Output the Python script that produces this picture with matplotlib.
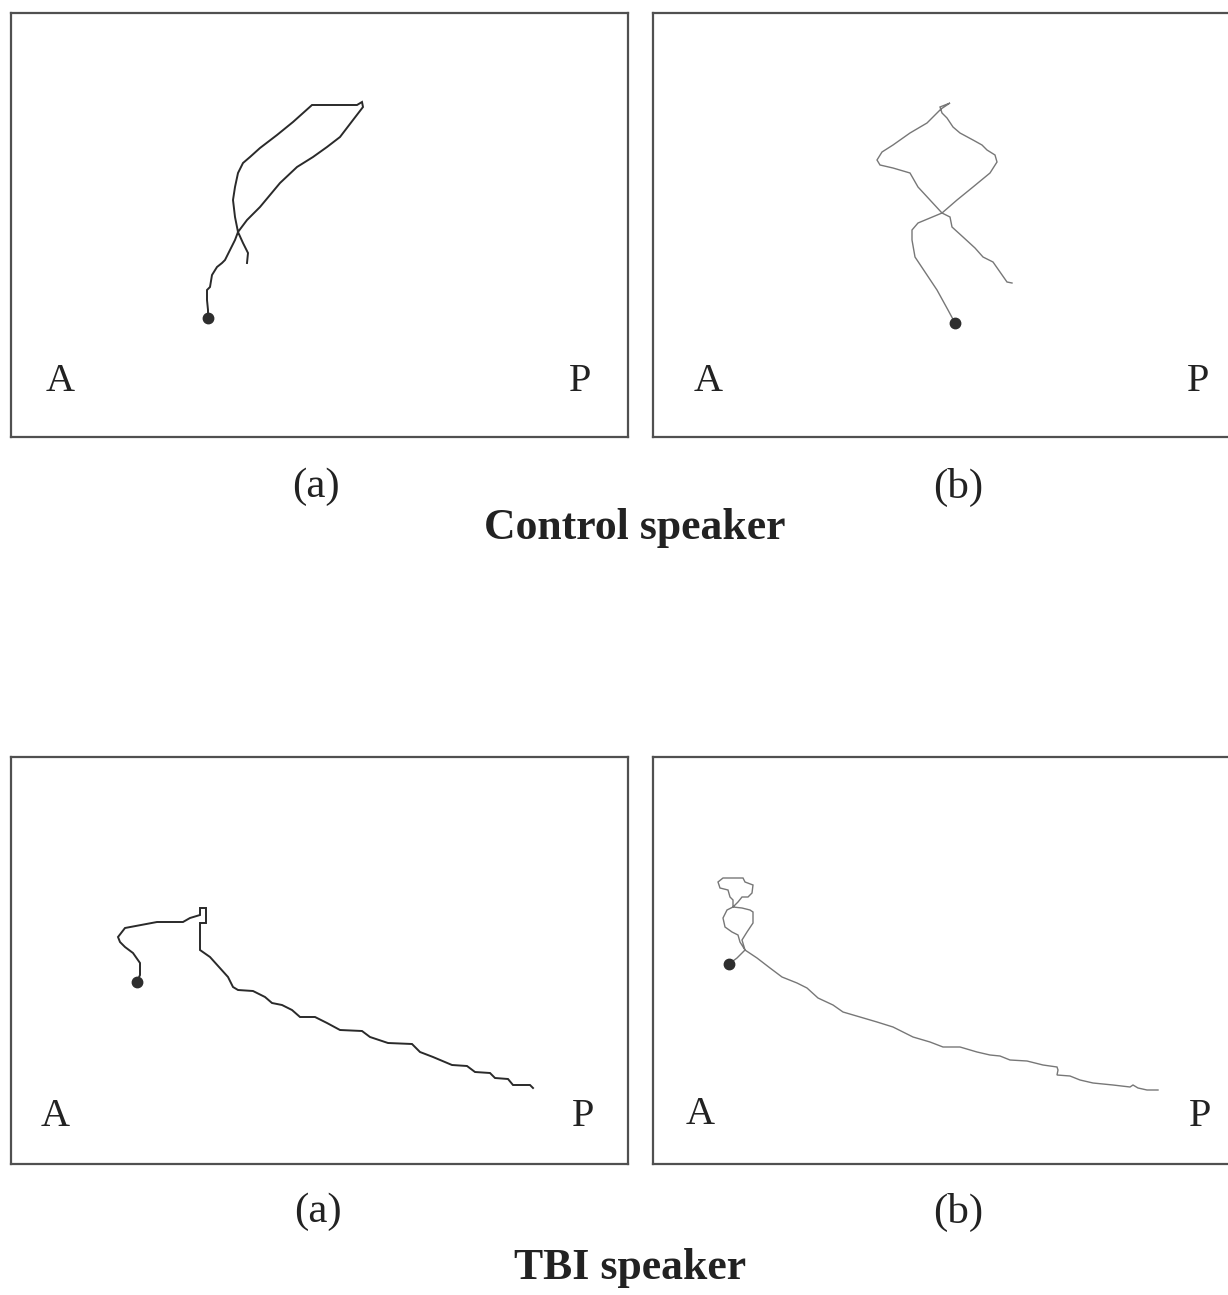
import matplotlib
matplotlib.use("Agg")
import matplotlib.pyplot as plt
import numpy as np

# Tongue-tip trajectories in the midsagittal plane (A = anterior, P = posterior).
# Coordinates are in panel units: x runs A -> P, y runs upward from the floor of each frame.

# Control speaker, (a)
ctrl_a_x = [197, 197, 196, 196, 199, 201, 206, 211, 214, 219, 224, 227, 224, 222, 224, 227,
            232, 239, 249, 266, 282, 301, 346, 351, 352, 342, 329, 316, 302, 286, 269, 249,
            236, 227, 232, 237, 236]
ctrl_a_y = [119, 127, 137, 147, 150, 162, 170, 174, 177, 187, 197, 205, 220, 237, 250, 264,
            274, 280, 289, 302, 315, 332, 332, 335, 330, 317, 300, 290, 280, 270, 254, 230,
            217, 205, 194, 184, 174]

# Control speaker, (b)
ctrl_b_x = [302, 295, 284, 272, 262, 259, 259, 265, 277, 289, 304, 320, 337, 344, 342, 334,
            329, 320, 307, 300, 294, 289, 287, 292, 297, 288, 274, 257, 240, 229, 224, 227,
            240, 257, 265, 277, 289, 297, 299, 310, 322, 330, 340, 347, 354, 359]
ctrl_b_y = [114, 127, 147, 165, 180, 197, 207, 214, 219, 224, 237, 250, 264, 275, 282, 287,
            292, 297, 304, 310, 319, 324, 330, 332, 334, 328, 314, 304, 292, 285, 277, 272,
            269, 264, 250, 237, 224, 220, 210, 200, 189, 180, 175, 165, 155, 154]

# TBI speaker, (a)
tbi_a_x = [126, 129, 129, 122, 114, 109, 107, 114, 146, 172, 179, 189, 189, 195, 195, 189,
           189, 199, 217, 222, 227, 242, 254, 261, 271, 281, 289, 304, 316, 329, 351, 359,
           377, 401, 409, 422, 441, 456, 464, 479, 484, 497, 502, 519, 522]
tbi_a_y = [182, 189, 201, 211, 217, 222, 227, 236, 242, 242, 246, 249, 256, 256, 241, 241,
           214, 207, 187, 177, 174, 173, 167, 161, 159, 154, 147, 147, 141, 134, 133, 127,
           121, 120, 112, 107, 99, 98, 92, 91, 86, 85, 79, 79, 76]

# TBI speaker, (b)
tbi_b_x = [76, 84, 89, 92, 89, 94, 100, 100, 97, 89, 80, 80, 77, 75, 67, 65, 70, 90, 92,
           100, 99, 95, 89, 85, 80, 74, 70, 72, 79, 85, 87, 92, 104, 117, 129, 144, 154,
           165, 180, 190, 207, 224, 240, 260, 277, 290, 307, 324, 337, 347, 357, 374, 390,
           404, 405, 404, 417, 427, 440, 460, 477, 480, 485, 494, 505]
tbi_b_y = [200, 206, 211, 214, 224, 232, 241, 252, 254, 256, 257, 264, 267, 274, 276, 282,
           286, 286, 282, 279, 271, 267, 267, 262, 257, 254, 246, 237, 232, 229, 222, 214,
           206, 196, 187, 181, 176, 166, 159, 152, 147, 142, 137, 127, 122, 117, 117, 112,
           109, 108, 104, 103, 99, 97, 94, 89, 88, 84, 81, 79, 77, 79, 76, 74, 74]

W, H = 1228, 1295
fig = plt.figure(figsize=(W / 100, H / 100), dpi=100)
fig.patch.set_facecolor("white")

SERIF = ["Liberation Serif", "DejaVu Serif"]
PANEL_W = 617


def frame(left, top, width, height):
    ax = fig.add_axes([left / W, 1 - (top + height) / H, width / W, height / H])
    ax.set_xlim(0, width)
    ax.set_ylim(0, height)
    ax.set_xticks([])
    ax.set_yticks([])
    for s in ax.spines.values():
        s.set_color("#505050")
        s.set_linewidth(1.6)
    return ax


def trace(ax, xs, ys, color, lw, a_pos, p_pos):
    ax.plot(xs, ys, color=color, lw=lw, solid_joinstyle="miter")
    ax.plot(xs[0], ys[0], "o", color="#2e2e2e", ms=7.5, mec="#2e2e2e")
    ax.text(a_pos[0], a_pos[1], "A", ha="center", va="center",
            fontsize=29, family=SERIF, color="#222222")
    ax.text(p_pos[0], p_pos[1], "P", ha="center", va="center",
            fontsize=29, family=SERIF, color="#222222")


def ftext(px, py, s, **kw):
    fig.text(px / W, 1 - py / H, s, ha="center", va="center", family=SERIF,
             color="#222222", **kw)


# Control speaker row
ax1 = frame(11, 13, PANEL_W, 424)
trace(ax1, ctrl_a_x, ctrl_a_y, "#2a2a2a", 1.4, (49, 55), (569, 55))
ax2 = frame(653, 13, PANEL_W, 424)
trace(ax2, ctrl_b_x, ctrl_b_y, "#777777", 1.0, (55, 55), (545, 55))

ftext(316, 487, "(a)", fontsize=31)
ftext(958, 487, "(b)", fontsize=31)
ftext(635, 528, "Control speaker", fontsize=31.5, fontweight="bold")

# TBI speaker row
ax3 = frame(11, 757, PANEL_W, 407)
trace(ax3, tbi_a_x, tbi_a_y, "#2a2a2a", 1.4, (44, 47), (572, 47))
ax4 = frame(653, 757, PANEL_W, 407)
trace(ax4, tbi_b_x, tbi_b_y, "#777777", 1.0, (47, 49), (547, 47))

ftext(318, 1212, "(a)", fontsize=31)
ftext(958, 1212, "(b)", fontsize=31)
ftext(630, 1268, "TBI speaker", fontsize=31.5, fontweight="bold")

fig.savefig("out.png", dpi=100, facecolor="white")
